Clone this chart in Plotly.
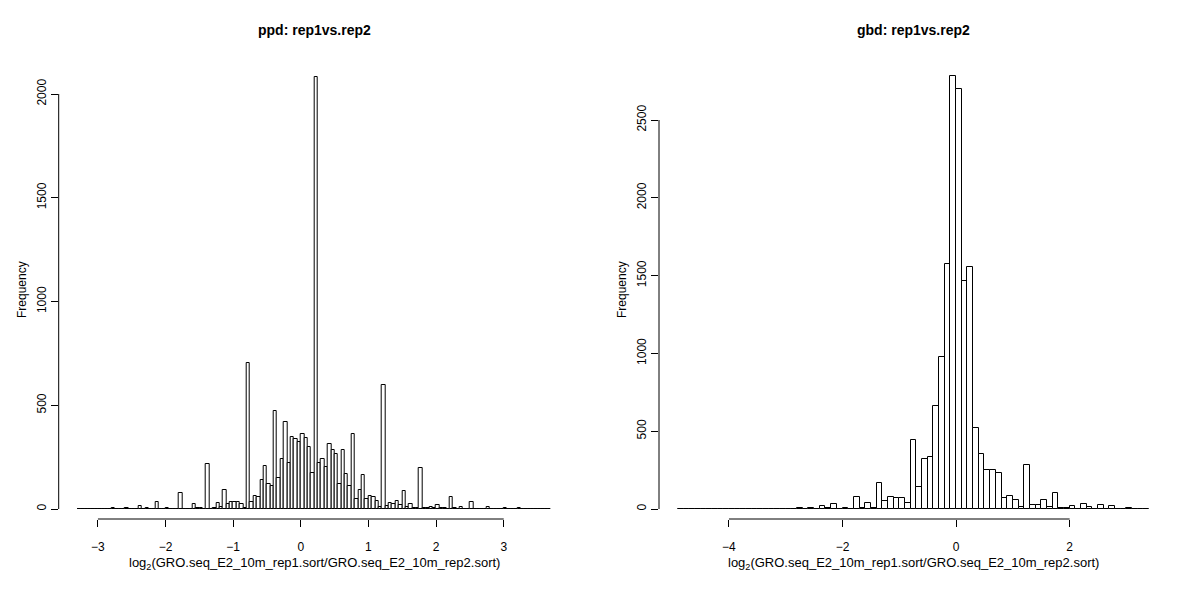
import plotly.graph_objects as go

# Left histogram (ppd): bins of width 0.05 starting at -3.3
ppd_start = -3.3
ppd_width = 0.05
ppd_counts = [0,0,0,0,0,0,0,0,0,0, 3,0,0,0,3,0,0,0,13,0,
              3,0,0,34,0,0,6,0,0,0, 75,0,0,0,26,3,3,0,215,0,
              6,27,11,90,24,35,35,32,24,6, 702,32,63,60,140,206,119,111,471,151,
              239,418,223,348,339,324,360,340,300,172, 2080,220,239,202,311,284,263,119,283,167,
              111,360,48,90,162,47,61,58,37,8, 597,13,31,22,37,18,85,8,24,6,
              3,196,3,3,11,6,18,5,3,0, 60,3,0,8,0,0,32,0,0,0,
              0,8,0,0,0,0,3,0,0,0, 3,0,0,2,0,0,0,0,0,0]

# Right histogram (gbd): bins of width 0.1 starting at -4.9
gbd_start = -4.9
gbd_width = 0.1
gbd_counts = [1,1,1,1,1,1,1,1,1,1, 1,1,1,1,1,2,2,3,3,2,
              2,8,3,8,3,20,5,32,2,5, 3,75,8,40,5,165,50,80,68,72,
              36,443,141,319,332,664,977,1574,2782,2699, 1467,1557,520,356,250,250,229,68,84,58,
              13,283,26,26,56,15,100,4,4,19, 2,32,10,2,23,2,19,2,2,6,
              2,2,1]

ppd_xticks = [-3, -2, -1, 0, 1, 2, 3]
ppd_yticks = [0, 500, 1000, 1500, 2000]
gbd_xticks = [-4, -2, 0, 2]
gbd_yticks = [0, 500, 1000, 1500, 2000, 2500]

titles = ["ppd: rep1vs.rep2", "gbd: rep1vs.rep2"]
xlabel = "log<sub>2</sub>(GRO.seq_E2_10m_rep1.sort/GRO.seq_E2_10m_rep2.sort)"
ylabel = "Frequency"

FONT = "Liberation Sans, Arial, sans-serif"
W, H = 1200, 600
OFF = 8  # page body margin

def px_x(p):
    return (p - OFF) / W

def px_y(p):
    return 1 - (p - OFF) / H

def centers(start, width, n):
    return [start + width * (i + 0.5) for i in range(n)]

fig = go.Figure()
fig.add_trace(go.Bar(x=centers(ppd_start, ppd_width, len(ppd_counts)), y=ppd_counts,
                     width=ppd_width, marker=dict(color="white", line=dict(color="black", width=1)),
                     xaxis="x", yaxis="y", hoverinfo="x+y"))
fig.add_trace(go.Bar(x=centers(gbd_start, gbd_width, len(gbd_counts)), y=gbd_counts,
                     width=gbd_width, marker=dict(color="white", line=dict(color="black", width=1)),
                     xaxis="x2", yaxis="y2", hoverinfo="x+y"))

def rng(lo, hi):
    e = (hi - lo) * 0.04
    return [lo - e, hi + e]

def yrange(ymax_tick, ymax_px):
    per = (509 - ymax_px) / ymax_tick
    return [-(519 - 509) / per, (509 - 60) / per]

ydom = [px_y(519), px_y(60)]
axcommon = dict(showgrid=False, zeroline=False, showline=False, ticks="outside", ticklen=7,
                tickcolor="black", tickfont=dict(family=FONT, size=12, color="black"))

ppd_end = ppd_start + ppd_width * len(ppd_counts)
gbd_end = gbd_start + gbd_width * len(gbd_counts)

fig.update_layout(
    width=W, height=H, margin=dict(l=0, r=0, t=0, b=0),
    paper_bgcolor="white", plot_bgcolor="white", showlegend=False, bargap=0,
    xaxis=dict(domain=[px_x(58.7), px_x(570)], range=rng(ppd_start, ppd_end), tickvals=ppd_xticks,
               anchor="y", ticklabelstandoff=10, **axcommon),
    yaxis=dict(domain=ydom, range=yrange(2000, 94), tickvals=ppd_yticks, tickangle=-90,
               anchor="x", **axcommon),
    xaxis2=dict(domain=[px_x(659), px_x(1168)], range=rng(gbd_start, gbd_end), tickvals=gbd_xticks,
                anchor="y2", ticklabelstandoff=10, **axcommon),
    yaxis2=dict(domain=ydom, range=yrange(2500, 120), tickvals=gbd_yticks, tickangle=-90,
                anchor="x2", **axcommon),
)

for xa, ya, xt, yt in [("x", "y", ppd_xticks, ppd_yticks), ("x2", "y2", gbd_xticks, gbd_yticks)]:
    fig.add_shape(type="line", xref=xa, yref=ya + " domain", x0=xt[0], x1=xt[-1], y0=0, y1=0,
                  line=dict(color="black", width=1))
    fig.add_shape(type="line", xref=xa + " domain", yref=ya, x0=0, x1=0, y0=yt[0], y1=yt[-1],
                  line=dict(color="black", width=1))

centers_px = [(58.7 + 570) / 2, (659 + 1168) / 2]
left_px = [22, 622]
for i, (xa, ya) in enumerate([("x", "y"), ("x2", "y2")]):
    fig.add_annotation(text="<b>" + titles[i] + "</b>", xref="paper", yref="paper",
                       x=px_x(centers_px[i]), y=px_y(30), xanchor="center", yanchor="middle",
                       showarrow=False, font=dict(family=FONT, size=14, color="black"))
    fig.add_annotation(text=xlabel, xref="paper", yref="paper", x=px_x(centers_px[i]), y=px_y(563),
                       xanchor="center", yanchor="middle",
                       showarrow=False, font=dict(family=FONT, size=13, color="black"))
    fig.add_annotation(text=ylabel, xref="paper", yref="paper", x=px_x(left_px[i]), y=px_y(290),
                       xanchor="center", yanchor="middle",
                       textangle=-90, showarrow=False, font=dict(family=FONT, size=12, color="black"))

fig.write_html("out.html")
